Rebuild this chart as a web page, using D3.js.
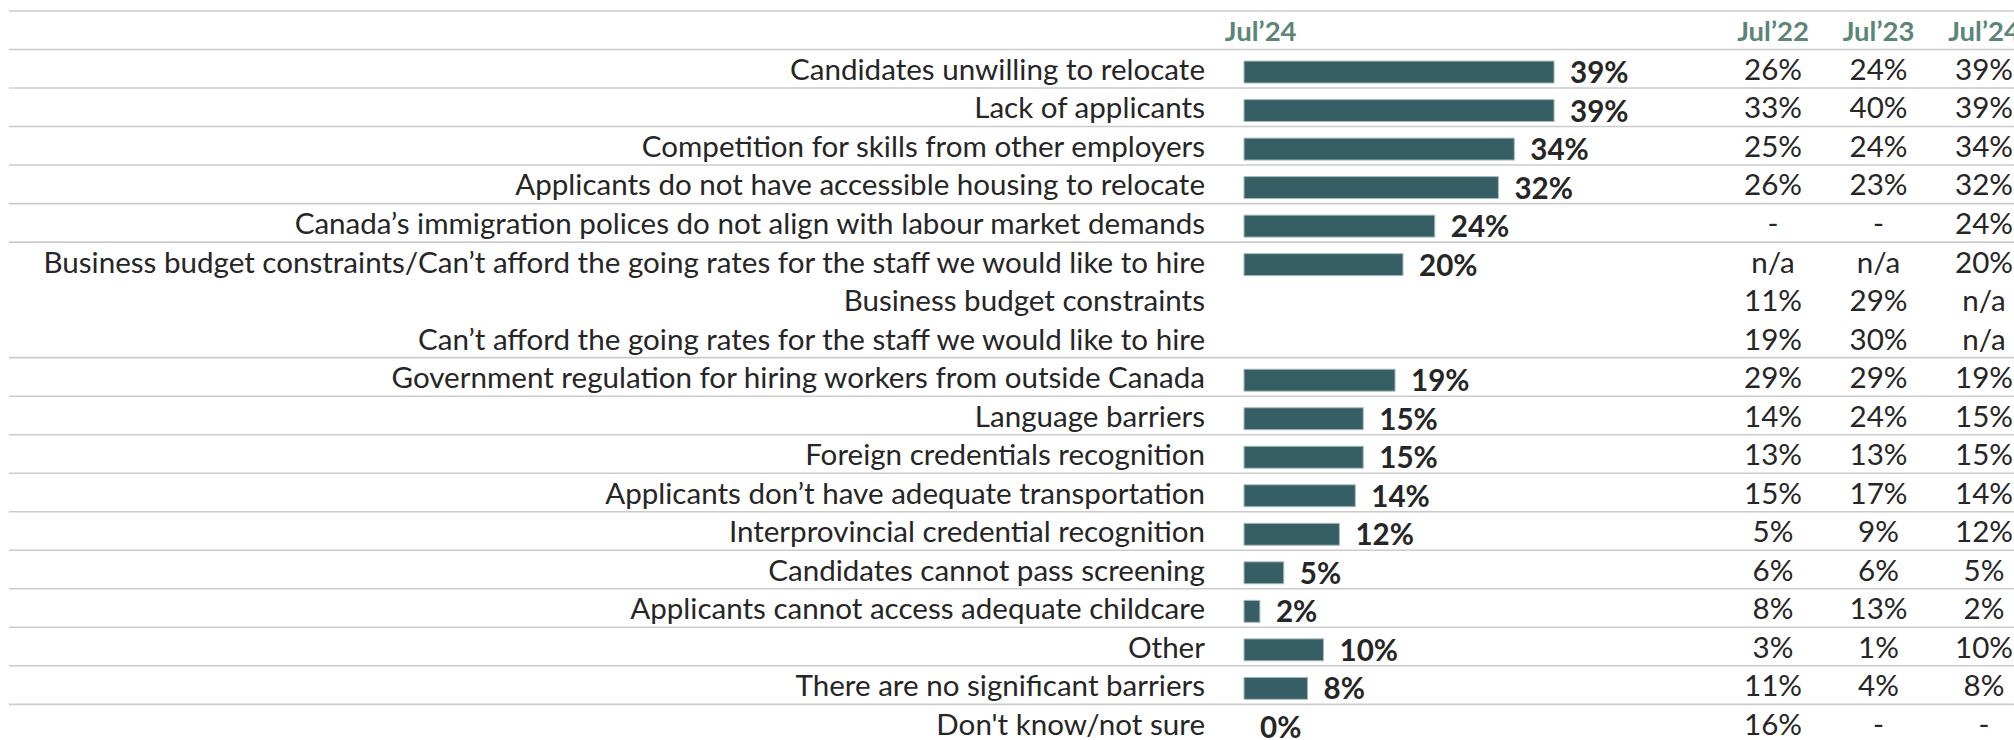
<!DOCTYPE html>
<html>
<head>
<meta charset="utf-8">
<script src="https://cdn.jsdelivr.net/npm/d3@7"></script>
<style>
  html, body { margin: 0; padding: 0; background: #ffffff; }
  svg { display: block; }
</style>
</head>
<body>
<svg id="chart" width="2014" height="740"></svg>
<script>
// ---- data ----
const categories = [
  "Candidates unwilling to relocate",
  "Lack of applicants",
  "Competition for skills from other employers",
  "Applicants do not have accessible housing to relocate",
  "Canada’s immigration polices do not align with labour market demands",
  "Business budget constraints/Can’t afford the going rates for the staff we would like to hire",
  "Business budget constraints",
  "Can’t afford the going rates for the staff we would like to hire",
  "Government regulation for hiring workers from outside Canada",
  "Language barriers",
  "Foreign credentials recognition",
  "Applicants don’t have adequate transportation",
  "Interprovincial credential recognition",
  "Candidates cannot pass screening",
  "Applicants cannot access adequate childcare",
  "Other",
  "There are no significant barriers",
  "Don't know/not sure"
];
// bar values for Jul'24 (null = no bar)
const barJul24 = [39, 39, 34, 32, 24, 20, null, null, 19, 15, 15, 14, 12, 5, 2, 10, 8, 0];
// table columns
const tableHeaders = ["Jul’22", "Jul’23", "Jul’24"];
const tableJul22 = ["26%", "33%", "25%", "26%", "-", "n/a", "11%", "19%", "29%", "14%", "13%", "15%", "5%", "6%", "8%", "3%", "11%", "16%"];
const tableJul23 = ["24%", "40%", "24%", "23%", "-", "n/a", "29%", "30%", "29%", "24%", "13%", "17%", "9%", "6%", "13%", "1%", "4%", "-"];
const tableJul24 = ["39%", "39%", "34%", "32%", "24%", "20%", "n/a", "n/a", "19%", "15%", "15%", "14%", "12%", "5%", "2%", "10%", "8%", "-"];
const barHeader = "Jul’24";
// rows that continue the group above (no divider line on top)
const groupedRows = ["Business budget constraints", "Can’t afford the going rates for the staff we would like to hire"];

// ---- styles ----
const FONT = "Lato, 'Open Sans', sans-serif";
const TEXT = "#262626";
const HEAD = "#5b8577";
const BAR = "#365f65";
const LINE = "#cbcbcb";

const svg = d3.select("#chart");
svg.append("rect").attr("width", 2014).attr("height", 740).attr("fill", "#fff");

// fit font size so the longest label spans the reference width
const probe = svg.append("text").attr("font-family", FONT).attr("font-size", 100)
  .text(categories[5]);
const probeLen = probe.node().getComputedTextLength();
probe.remove();
const FS = Math.min(34, 100 * 1162 / probeLen);

const headerTop = 11, rowTop = 49.5, rowH = 38.52;
const y = d3.scaleBand().domain(categories)
  .range([rowTop, rowTop + rowH * categories.length]).padding(0);
const x = d3.scaleLinear().domain([0, 100]).range([1244, 1244 + 795]);
const col = d3.scalePoint().domain(tableHeaders).range([1773, 1984]);
const labelRight = 1205;
const barOffset = y.bandwidth() * 0.30;
const barH = y.bandwidth() * 0.57;
const textBase = y.bandwidth() * 0.79;

// divider lines
const lineYs = [headerTop, rowTop]
  .concat(categories.filter((c, i) => i > 0 && !groupedRows.includes(c)).map(c => y(c)))
  .concat([rowTop + rowH * categories.length]);
svg.append("g").selectAll("line").data(lineYs).join("line")
  .attr("x1", 9).attr("x2", 2014)
  .attr("y1", d => d).attr("y2", d => d)
  .attr("stroke", LINE).attr("stroke-width", 1.6);

// headers
svg.append("text")
  .attr("x", x(2.1)).attr("y", headerTop + textBase)
  .attr("text-anchor", "middle")
  .attr("font-family", FONT).attr("font-weight", 700).attr("font-size", FS * 0.93)
  .attr("fill", HEAD).text(barHeader);
svg.append("g").selectAll("text").data(tableHeaders).join("text")
  .attr("x", d => col(d)).attr("y", headerTop + textBase)
  .attr("text-anchor", "middle")
  .attr("font-family", FONT).attr("font-weight", 700).attr("font-size", FS * 0.93)
  .attr("fill", HEAD).text(d => d);

// category labels
svg.append("g").selectAll("text").data(categories).join("text")
  .attr("x", labelRight).attr("y", d => y(d) + textBase)
  .attr("text-anchor", "end")
  .attr("font-family", FONT).attr("font-size", FS)
  .attr("fill", TEXT).text(d => d);

// bars
const barData = categories.map((c, i) => ({ c, v: barJul24[i] })).filter(d => d.v !== null);
svg.append("g").selectAll("rect").data(barData.filter(d => d.v > 0)).join("rect")
  .attr("x", x(0)).attr("y", d => y(d.c) + barOffset)
  .attr("width", d => x(d.v) - x(0)).attr("height", barH)
  .attr("fill", BAR).attr("stroke", "#a9bcbd").attr("stroke-width", 1);

// bar value labels
svg.append("g").selectAll("text").data(barData).join("text")
  .attr("x", d => x(d.v) + 16).attr("y", d => y(d.c) + barOffset + barH)
  .attr("font-family", FONT).attr("font-weight", 700).attr("font-size", FS)
  .attr("fill", TEXT).text(d => d.v + "%");

// table values
const tableCols = [tableJul22, tableJul23, tableJul24];
tableCols.forEach((vals, ci) => {
  svg.append("g").selectAll("text").data(vals).join("text")
    .attr("x", col(tableHeaders[ci])).attr("y", (d, i) => y(categories[i]) + textBase)
    .attr("text-anchor", "middle")
    .attr("font-family", FONT).attr("font-size", FS)
    .attr("fill", TEXT).text(d => d);
});
</script>
</body>
</html>
